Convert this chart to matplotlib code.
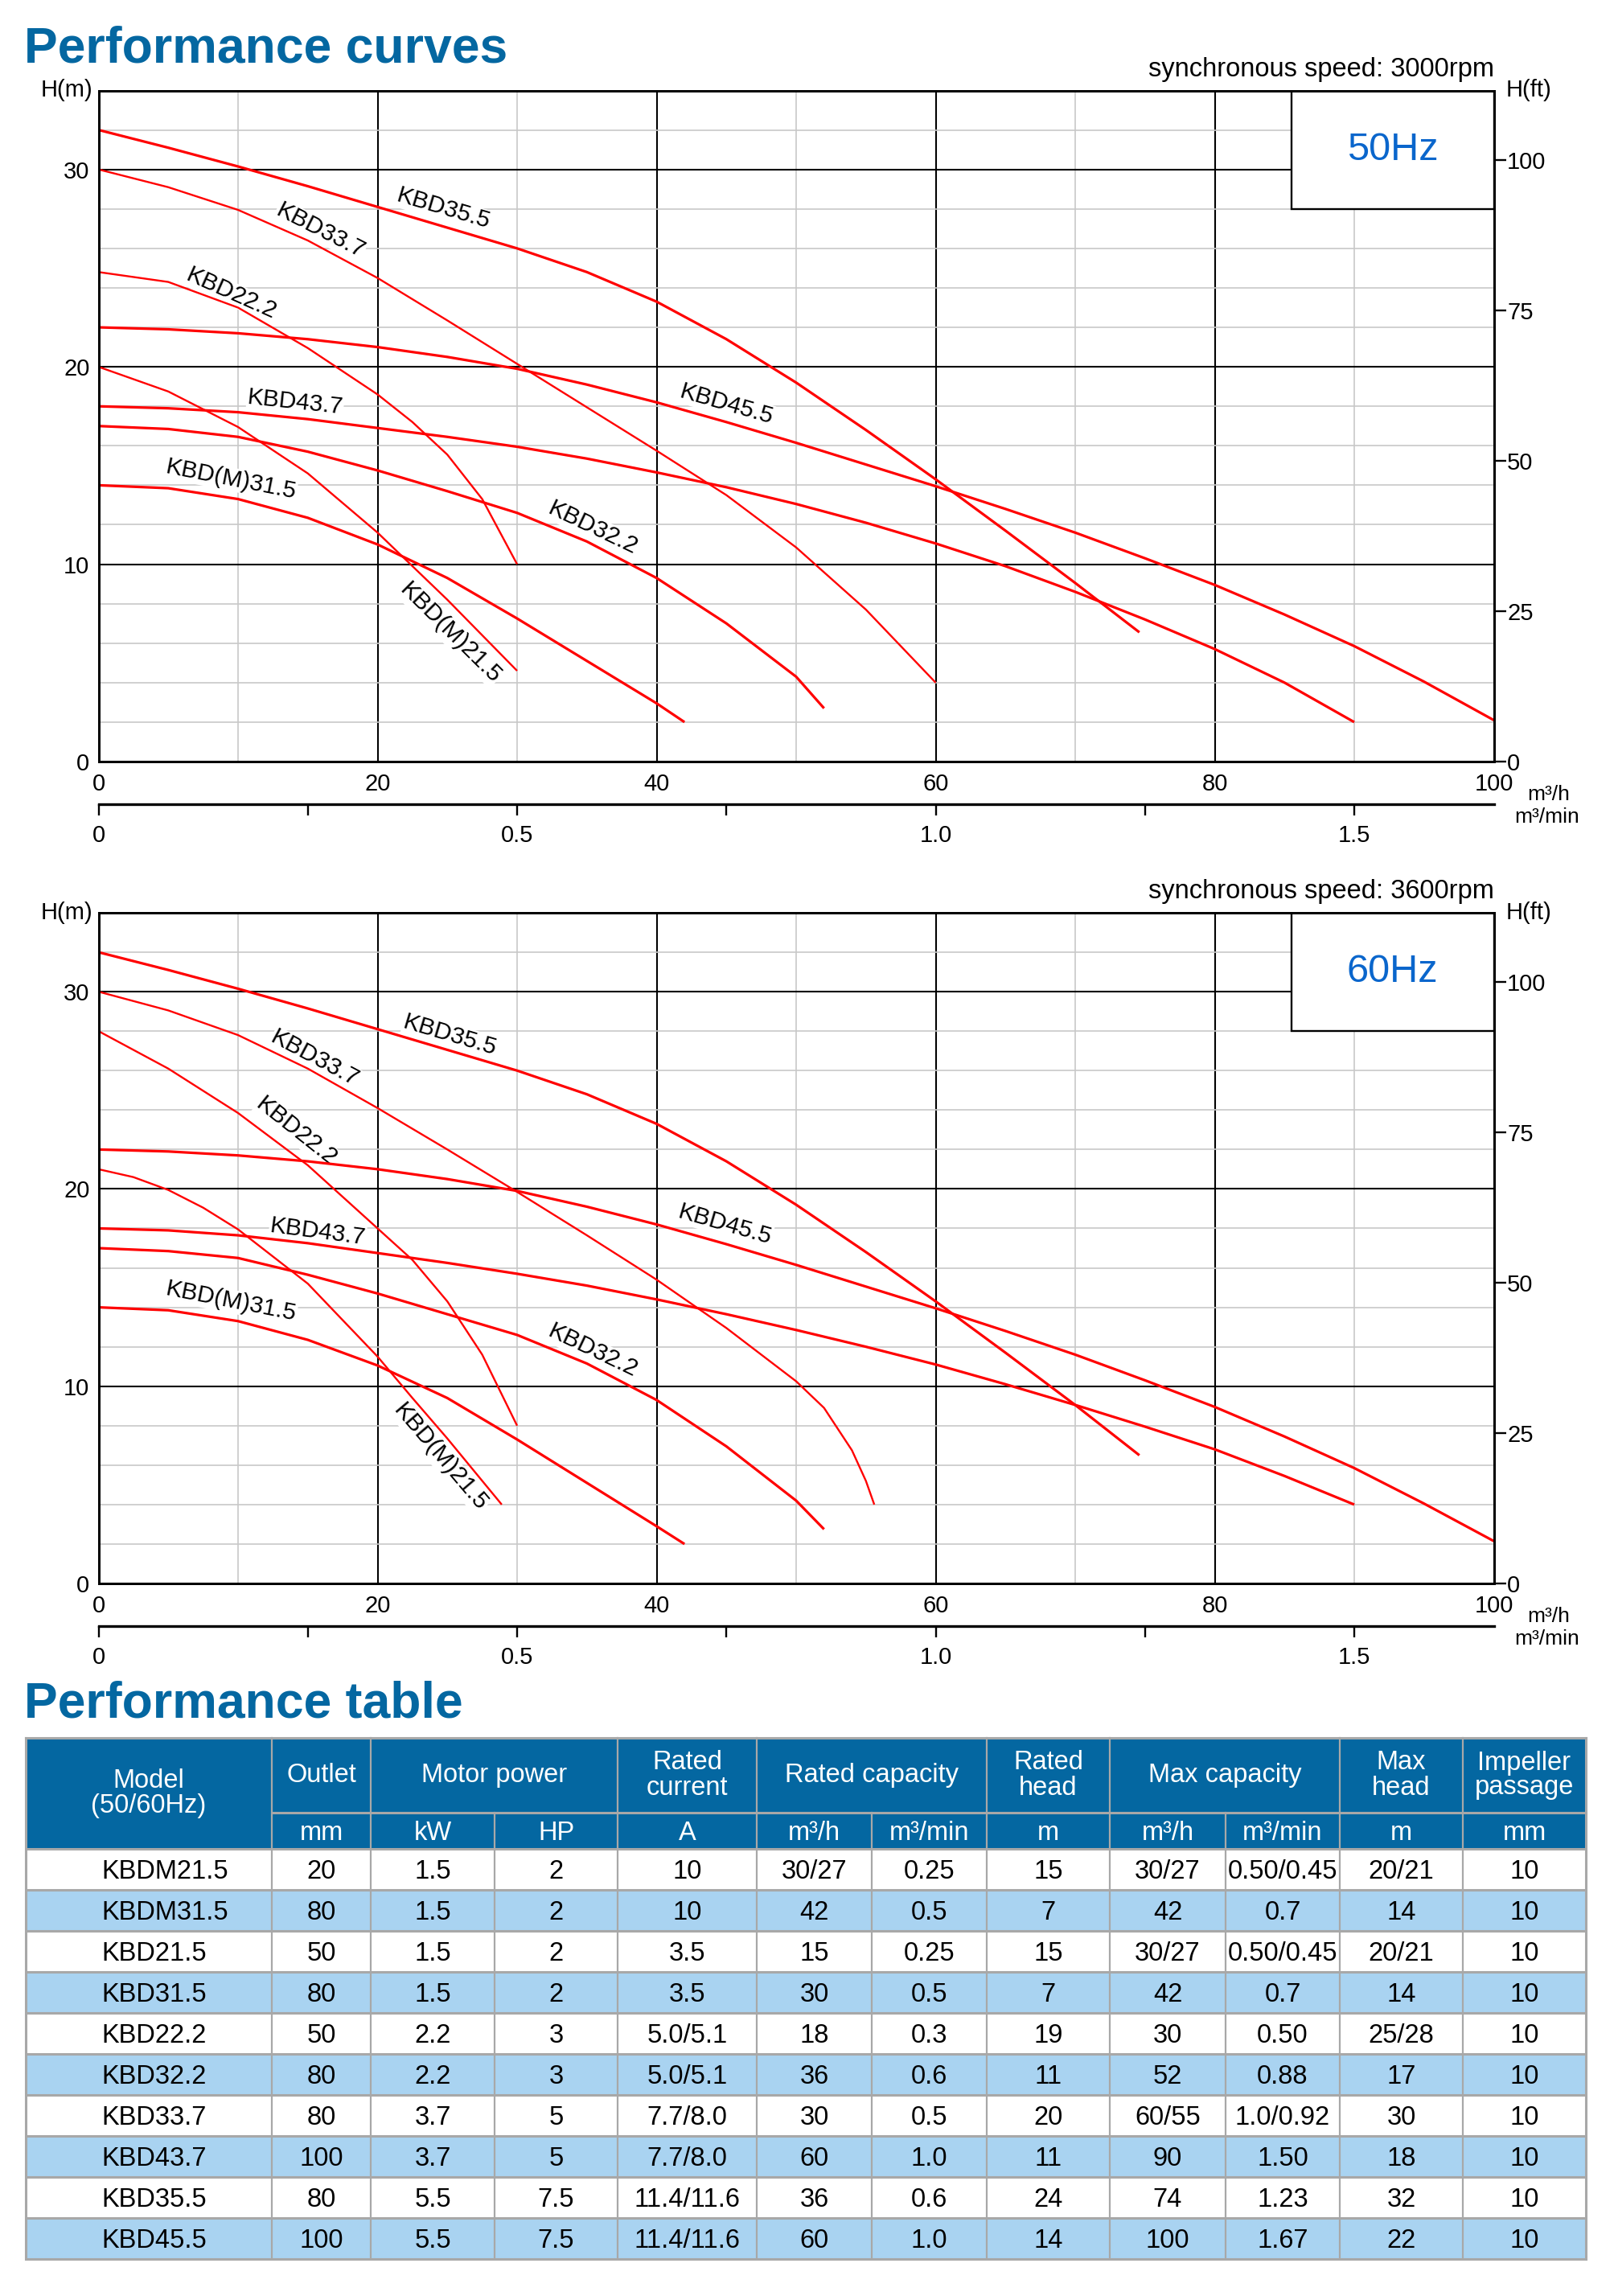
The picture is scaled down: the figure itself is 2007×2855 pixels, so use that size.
import numpy as np
import matplotlib
matplotlib.use("Agg")
import matplotlib.pyplot as plt
from matplotlib.patches import Rectangle

plt.rcParams['font.family'] = ['Liberation Sans', 'DejaVu Sans']

# ---------------- curve data: flow Q (m3/h) and head H (m) ----------------
# 50 Hz chart
q_355_50 = [0, 5, 10, 15, 20, 25, 30, 35, 40, 45, 50, 55, 60, 65, 70, 74.6]
h_355_50 = [32.0, 31.1, 30.15, 29.15, 28.1, 27.05, 26.0, 24.8, 23.3, 21.4, 19.2, 16.8, 14.3, 11.7, 9.05, 6.55]
q_337_50 = [0, 5, 10, 15, 20, 25, 30, 35, 40, 45, 50, 55, 60]
h_337_50 = [30.0, 29.1, 27.95, 26.4, 24.5, 22.35, 20.15, 17.95, 15.75, 13.5, 10.85, 7.7, 4.0]
q_222_50 = [0, 5, 10, 15, 20, 22.5, 25, 27.5, 30]
h_222_50 = [24.8, 24.3, 23.0, 20.95, 18.6, 17.2, 15.55, 13.3, 10.0]
q_455_50 = [0, 5, 10, 15, 20, 25, 30, 35, 40, 45, 50, 55, 60, 65, 70, 75, 80, 85, 90, 95, 100]
h_455_50 = [22.0, 21.9, 21.7, 21.4, 21.0, 20.5, 19.9, 19.1, 18.2, 17.2, 16.15, 15.05, 13.95, 12.8,
            11.6, 10.3, 8.95, 7.45, 5.85, 4.05, 2.1]
q_437_50 = [0, 5, 10, 15, 20, 25, 30, 35, 40, 45, 50, 55, 60, 65, 70, 75, 80, 85, 90]
h_437_50 = [18.0, 17.9, 17.7, 17.35, 16.9, 16.45, 15.95, 15.35, 14.65, 13.9, 13.05, 12.1, 11.05, 9.9,
            8.6, 7.2, 5.7, 4.0, 2.0]
q_322_50 = [0, 5, 10, 15, 20, 25, 30, 35, 40, 45, 50, 52]
h_322_50 = [17.0, 16.85, 16.45, 15.7, 14.75, 13.7, 12.6, 11.15, 9.3, 7.0, 4.3, 2.7]
q_m315_50 = [0, 5, 10, 15, 20, 25, 30, 35, 40, 42]
h_m315_50 = [14.0, 13.85, 13.3, 12.35, 11.0, 9.3, 7.25, 5.1, 2.95, 2.0]
q_m215_50 = [0, 5, 10, 15, 20, 25, 30]
h_m215_50 = [20.0, 18.75, 16.95, 14.6, 11.6, 8.2, 4.6]

# 60 Hz chart
q_355_60 = [0, 5, 10, 15, 20, 25, 30, 35, 40, 45, 50, 55, 60, 65, 70, 74.6]
h_355_60 = [32.0, 31.1, 30.15, 29.15, 28.1, 27.05, 26.0, 24.8, 23.3, 21.4, 19.2, 16.8, 14.3, 11.7, 9.05, 6.5]
q_337_60 = [0, 5, 10, 15, 20, 25, 30, 35, 40, 45, 50, 52, 54, 55, 55.6]
h_337_60 = [30.0, 29.05, 27.8, 26.1, 24.1, 22.0, 19.85, 17.65, 15.4, 12.95, 10.25, 8.9, 6.75, 5.2, 4.0]
q_222_60 = [0, 5, 10, 15, 20, 22.5, 25, 27.5, 30]
h_222_60 = [28.0, 26.1, 23.85, 21.2, 18.0, 16.4, 14.3, 11.6, 8.0]
q_455_60 = [0, 5, 10, 15, 20, 25, 30, 35, 40, 45, 50, 55, 60, 65, 70, 75, 80, 85, 90, 95, 100]
h_455_60 = [22.0, 21.9, 21.7, 21.4, 21.0, 20.5, 19.9, 19.1, 18.2, 17.2, 16.15, 15.05, 13.95, 12.8,
            11.6, 10.3, 8.95, 7.45, 5.85, 4.05, 2.15]
q_437_60 = [0, 5, 10, 15, 20, 25, 30, 35, 40, 45, 50, 55, 60, 65, 70, 75, 80, 85, 90]
h_437_60 = [18.0, 17.9, 17.65, 17.25, 16.75, 16.25, 15.7, 15.1, 14.4, 13.65, 12.85, 12.0, 11.1, 10.1,
            9.05, 7.95, 6.8, 5.45, 4.0]
q_322_60 = [0, 5, 10, 15, 20, 25, 30, 35, 40, 45, 50, 52]
h_322_60 = [17.0, 16.85, 16.5, 15.65, 14.7, 13.65, 12.6, 11.15, 9.3, 6.95, 4.2, 2.75]
q_m315_60 = [0, 5, 10, 15, 20, 25, 30, 35, 40, 42]
h_m315_60 = [14.0, 13.85, 13.3, 12.35, 11.05, 9.4, 7.3, 5.1, 2.9, 2.0]
q_m215_60 = [0, 2.5, 5, 7.5, 10, 15, 20, 22.5, 25, 28.9]
h_m215_60 = [21.0, 20.6, 19.95, 19.05, 17.95, 15.2, 11.5, 9.4, 7.35, 4.0]

curve_names = ["KBD35.5", "KBD33.7", "KBD22.2", "KBD45.5", "KBD43.7", "KBD32.2", "KBD(M)31.5", "KBD(M)21.5"]

# label anchor points (flow, head) in the same order as curve_names
label_q_50 = [24.7, 15.9, 9.5, 45.0, 14.1, 35.4, 9.5, 25.2]
label_h_50 = [28.0, 26.9, 23.7, 18.1, 18.2, 11.85, 14.3, 6.5]
label_q_60 = [25.2, 15.5, 14.2, 44.9, 15.7, 35.4, 9.5, 24.5]
label_h_60 = [27.8, 26.6, 22.9, 18.2, 17.8, 11.8, 14.3, 6.4]

# ---------------- table data ----------------
models = ["KBDM21.5", "KBDM31.5", "KBD21.5", "KBD31.5", "KBD22.2",
          "KBD32.2", "KBD33.7", "KBD43.7", "KBD35.5", "KBD45.5"]
outlet_mm = ["20", "80", "50", "80", "50", "80", "80", "100", "80", "100"]
power_kw = ["1.5", "1.5", "1.5", "1.5", "2.2", "2.2", "3.7", "3.7", "5.5", "5.5"]
power_hp = ["2", "2", "2", "2", "3", "3", "5", "5", "7.5", "7.5"]
rated_current = ["10", "10", "3.5", "3.5", "5.0/5.1", "5.0/5.1", "7.7/8.0", "7.7/8.0",
                 "11.4/11.6", "11.4/11.6"]
rated_cap_h = ["30/27", "42", "15", "30", "18", "36", "30", "60", "36", "60"]
rated_cap_min = ["0.25", "0.5", "0.25", "0.5", "0.3", "0.6", "0.5", "1.0", "0.6", "1.0"]
rated_head = ["15", "7", "15", "7", "19", "11", "20", "11", "24", "14"]
max_cap_h = ["30/27", "42", "30/27", "42", "30", "52", "60/55", "90", "74", "100"]
max_cap_min = ["0.50/0.45", "0.7", "0.50/0.45", "0.7", "0.50", "0.88", "1.0/0.92", "1.50", "1.23", "1.67"]
max_head = ["20/21", "14", "20/21", "14", "25/28", "17", "30", "18", "32", "22"]
impeller_mm = ["10", "10", "10", "10", "10", "10", "10", "10", "10", "10"]

RED = "#ff0000"
BLUE = "#0467a1"
HZBLUE = "#0a66cc"
LIGHT = "#a9d3f1"
GRAY = "#c8c8c8"
TGRAY = "#a8a8a8"

FIG_W, FIG_H = 2007, 2855
fig = plt.figure(figsize=(FIG_W / 100, FIG_H / 100), dpi=100)


def px_rect(left, top, right, bottom):
    return [left / FIG_W, 1 - bottom / FIG_H, (right - left) / FIG_W, (bottom - top) / FIG_H]


def draw_chart(rect, curves, lab_q, lab_h, speed, hz):
    ax = fig.add_axes(rect)
    ax.set_xlim(0, 100)
    ax.set_ylim(0, 34)
    ax.set_xticks([0, 20, 40, 60, 80, 100])
    ax.set_xticks([10, 30, 50, 70, 90], minor=True)
    ax.set_yticks([0, 10, 20, 30])
    ax.set_yticks([2, 4, 6, 8, 12, 14, 16, 18, 22, 24, 26, 28, 32], minor=True)
    ax.grid(which="major", color="black", lw=1.5)
    ax.grid(which="minor", color=GRAY, lw=1.2)
    ax.set_axisbelow(True)
    ax.tick_params(which="both", length=0, labelsize=21)
    ax.tick_params(axis="x", pad=10)
    ax.tick_params(axis="y", pad=8)
    for s in ax.spines.values():
        s.set_linewidth(2)

    thin = ("KBD33.7", "KBD22.2", "KBD(M)21.5")
    for name, q, h in curves:
        ax.plot(q, h, color=RED, lw=1.7 if name in thin else 2.3, zorder=2,
                solid_capstyle="butt", solid_joinstyle="round")

    # curve labels, turned to follow each curve
    for (name, q, h), lq, lh in zip(curves, lab_q, lab_h):
        h1 = np.interp(lq - 2, q, h)
        h2 = np.interp(lq + 2, q, h)
        p1 = ax.transData.transform((lq - 2, h1))
        p2 = ax.transData.transform((lq + 2, h2))
        ang = np.degrees(np.arctan2(p2[1] - p1[1], p2[0] - p1[0]))
        ax.text(lq, lh, name, rotation=ang, rotation_mode="anchor", ha="center", va="center",
                fontsize=21.5, zorder=1.8,
                bbox=dict(facecolor="white", edgecolor="none", pad=0.5))

    # frequency box
    ax.add_patch(Rectangle((85.5, 28), 14.5, 6, facecolor="white", edgecolor="black",
                           lw=1.7, zorder=1.5))
    ax.text(92.75, 31, hz, color=HZBLUE, fontsize=35, ha="center", va="center", zorder=1.6)

    # head in feet on the right
    ax2 = ax.twinx()
    ax2.set_ylim(0, 34 / 0.3048)
    ax2.set_yticks([0, 25, 50, 75, 100])
    ax2.tick_params(axis="y", direction="out", length=11, width=1.7, pad=1, labelsize=21)
    for s in ax2.spines.values():
        s.set_linewidth(2)

    # m3/min scale under the flow axis
    sec = ax.secondary_xaxis(-0.064, functions=(lambda v: v / 60.0, lambda v: v * 60.0))
    sec.set_xticks([0, 0.5, 1.0, 1.5], labels=["0", "0.5", "1.0", "1.5"])
    sec.set_xticks([0.25, 0.75, 1.25], minor=True)
    sec.tick_params(which="both", direction="out", length=10, width=1.7, pad=8, labelsize=21)
    sec.spines["bottom"].set_linewidth(2.4)

    ax.text(-0.004, 1.0, "H(m)", transform=ax.transAxes, ha="right", va="center", fontsize=21)
    ax.text(1.009, 1.0, "H(ft)", transform=ax.transAxes, ha="left", va="center", fontsize=21)
    ax.text(1.0, 1.021, speed, transform=ax.transAxes, ha="right", va="baseline", fontsize=23.5)
    ax.text(1.039, -0.049, "m³/h", transform=ax.transAxes, ha="center", va="center", fontsize=19)
    ax.text(1.038, -0.083, "m³/min", transform=ax.transAxes, ha="center", va="center", fontsize=19)
    return ax


curves_50 = list(zip(curve_names,
                     [q_355_50, q_337_50, q_222_50, q_455_50, q_437_50, q_322_50, q_m315_50, q_m215_50],
                     [h_355_50, h_337_50, h_222_50, h_455_50, h_437_50, h_322_50, h_m315_50, h_m215_50]))
curves_60 = list(zip(curve_names,
                     [q_355_60, q_337_60, q_222_60, q_455_60, q_437_60, q_322_60, q_m315_60, q_m215_60],
                     [h_355_60, h_337_60, h_222_60, h_455_60, h_437_60, h_322_60, h_m315_60, h_m215_60]))

draw_chart(px_rect(122.5, 112.5, 1857.5, 947), curves_50, label_q_50, label_h_50,
           "synchronous speed: 3000rpm", "50Hz")
draw_chart(px_rect(122.5, 1135, 1857.5, 1969), curves_60, label_q_60, label_h_60,
           "synchronous speed: 3600rpm", "60Hz")

# ---------------- titles and table (pixel coordinates) ----------------
axt = fig.add_axes([0, 0, 1, 1], zorder=-1)
axt.set_xlim(0, FIG_W)
axt.set_ylim(FIG_H, 0)
axt.axis("off")

axt.text(30, 77, "Performance curves", fontsize=45, fontweight="bold", color=BLUE, va="baseline")
axt.text(30, 2135, "Performance table", fontsize=45, fontweight="bold", color=BLUE, va="baseline")

col_edges = [32, 338, 461, 615, 768, 941, 1084, 1227, 1380, 1524, 1666, 1819, 1972]
head_top, head_mid, head_bot = 2161, 2254, 2299
row_h = 51
x0, x1 = col_edges[0], col_edges[-1]
FS = 23.5
cap = 0.716 * FS * 100 / 72

axt.add_patch(Rectangle((x0, head_top), x1 - x0, head_bot - head_top, facecolor=BLUE, edgecolor="none"))

header_groups = [(0, 1, "Model\n(50/60Hz)"), (1, 2, "Outlet"), (2, 4, "Motor power"),
                 (4, 5, "Rated\ncurrent"), (5, 7, "Rated capacity"), (7, 8, "Rated\nhead"),
                 (8, 10, "Max capacity"), (10, 11, "Max\nhead"), (11, 12, "Impeller\npassage")]
unit_labels = ["mm", "kW", "HP", "A", "m³/h", "m³/min", "m", "m³/h", "m³/min", "m", "mm"]

for c0, c1, label in header_groups:
    xc = (col_edges[c0] + col_edges[c1]) / 2
    if c0 == 0:
        yc = (head_top + head_bot) / 2
    else:
        yc = (head_top + head_mid) / 2
    axt.text(xc, yc, label, color="white", fontsize=FS, ha="center", va="center", linespacing=1.0)
for j, u in enumerate(unit_labels, start=1):
    xc = (col_edges[j] + col_edges[j + 1]) / 2
    axt.text(xc, (head_mid + head_bot) / 2 + cap / 2, u, color="white", fontsize=FS,
             ha="center", va="baseline")

columns = [outlet_mm, power_kw, power_hp, rated_current, rated_cap_h, rated_cap_min,
           rated_head, max_cap_h, max_cap_min, max_head, impeller_mm]
for i, model in enumerate(models):
    y = head_bot + i * row_h
    axt.add_patch(Rectangle((x0, y), x1 - x0, row_h, facecolor="white" if i % 2 == 0 else LIGHT,
                            edgecolor="none"))
    yb = y + row_h / 2 + cap / 2
    axt.text(126, yb, model, fontsize=FS, ha="left", va="baseline")
    for j, col in enumerate(columns, start=1):
        axt.text((col_edges[j] + col_edges[j + 1]) / 2, yb, col[i], fontsize=FS,
                 ha="center", va="baseline")

# cell borders
table_bot = head_bot + len(models) * row_h
for k in range(len(models) + 1):
    yy = head_bot + k * row_h
    axt.plot([x0, x1], [yy, yy], color=TGRAY, lw=2.2, solid_capstyle="butt")
axt.plot([x0, x1], [head_top, head_top], color=TGRAY, lw=2.2)
axt.plot([col_edges[1], x1], [head_mid, head_mid], color=TGRAY, lw=2.2)
group_edges = [g[0] for g in header_groups] + [12]
for j, xe in enumerate(col_edges):
    top = head_top if (j in group_edges or j == 0) else head_mid
    axt.plot([xe, xe], [top, table_bot], color=TGRAY, lw=1.6 if 0 < j < 12 else 2.2)

fig.savefig("out.png", dpi=100)
